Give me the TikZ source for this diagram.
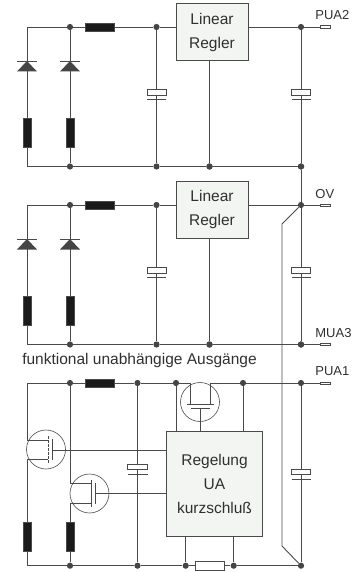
\documentclass[tikz,border=0pt]{standalone}
\usepackage{fontspec}
\setmainfont{Liberation Sans}
\definecolor{wirec}{HTML}{4A4A4A}
\definecolor{dotc}{HTML}{454545}
\definecolor{boxf}{HTML}{F3F5F3}
\definecolor{resc}{HTML}{1A1A1A}
\definecolor{textc}{HTML}{303030}
\tikzset{
 wire/.style={draw=wirec,line width=0.9pt},
 dotn/.style={circle,fill=dotc,inner sep=0pt,minimum size=6.2pt},
 resb/.style={draw=wirec,fill=resc,line width=0.5pt},
 resw/.style={draw=wirec,fill=white,line width=0.8pt},
 ctrl/.style={draw=wirec,fill=boxf,line width=0.9pt,inner sep=0pt,align=center,font=\fontsize{15.5}{24}\selectfont,text=textc},
 lab/.style={font=\fontsize{13}{15}\selectfont,text=textc,inner sep=0pt,anchor=base west},
 term/.style={draw=wirec,fill=white,line width=0.6pt,inner sep=0pt,minimum width=10pt,minimum height=2.4pt},
 fetc/.style={circle,draw=wirec,line width=0.6pt,minimum size=39pt,inner sep=0pt},
}
\newcommand{\rectv}[2]{\path[resb] (#1-4,#2) rectangle (#1+4,#2+29);}
\newcommand{\capv}[2]{%
 \path[resw,fill=white] (#1-9.5,#2) rectangle (#1+9.5,#2+5.5);
 \draw[wire] (#1-9.5,#2+10) -- (#1+9.5,#2+10);}
\newcommand{\diodev}[2]{%
 \fill[dotc] (#1,#2) -- (#1-10,#2+10.5) -- (#1+10,#2+10.5) -- cycle;
 \draw[wire] (#1-10,#2) -- (#1+10,#2);}
\newcommand{\block}[2]{% #1 y offset, #2 unused
 \begin{scope}[yshift=-#1pt]
 \coordinate (tl) at (27,27); \coordinate (bl) at (27,166.5);
 \node[dotn] (n1) at (70,27) {};
 \node[dotn] (n2) at (156.5,27) {};
 \node[dotn] (n3) at (70,166.5) {};
 \node[dotn] (n4) at (156.5,166.5) {};
 \node[dotn] (n5) at (209.5,166.5) {};
 \node[dotn] (n6) at (301,166.5) {};
 \draw[wire] (n2) -- (176,27);
 \draw[wire] (tl) -- (n1) -- (n2);
 \draw[wire] (tl) -- (bl) -- (n3) -- (n4) -- (n5) -- (n6);
 \draw[wire] (n1) -- (n3);
 \draw[wire] (n2) -- (n4);
 \path[resb] (85,23.5) rectangle (114,31.5);
 \diodev{27}{61}\diodev{70}{61}
 \rectv{27}{118}\rectv{70}{118}
 \capv{156.5}{89.5}
 \end{scope}}
\begin{document}
\begin{tikzpicture}[x=1pt,y=-1pt]
\useasboundingbox (0,0) rectangle (352,572);
\block{0}{}
\block{178}{}
% regulators
\node[ctrl,minimum width=72pt,minimum height=57.5pt] (lr1) at (212,32.2) {Linear\\Regler};
\node[ctrl,minimum width=72pt,minimum height=57.5pt] (lr2) at (212,209.8) {Linear\\Regler};
% output rail
\node[dotn] (o1) at (301,27) {};
\node[dotn] (o2) at (301,166.5) {};
\node[dotn] (o3) at (301,205) {};
\node[dotn] (o4) at (301,344.5) {};
\node[dotn] (g1) at (209.5,166.5) {};
\node[dotn] (g2) at (209.5,344.5) {};
\node[term] (t1) at (325,27) {};
\node[term] (t2) at (325,205) {};
\node[term] (t3) at (325,344.5) {};
\node[term] (t4) at (325,383) {};
\draw[wire] (lr1.east|-o1) -- (o1) -- (t1);
\draw[wire] (lr2.east|-o3) -- (o3) -- (t2);
\draw[wire] (o4) -- (t3);
\draw[wire] (o1) -- (o2) -- (o3) -- (o4);
\draw[wire] (lr1.south-|g1) -- (g1);
\draw[wire] (lr2.south-|g2) -- (g2);
\path[resw] (291.5,89.5) rectangle (310.5,95);
\draw[wire] (291.5,99.5) -- (310.5,99.5);
\path[resw] (291.5,267.5) rectangle (310.5,273);
\draw[wire] (291.5,277.5) -- (310.5,277.5);
\node[lab] at (315.2,20) {PUA2};
\node[lab] at (315.2,198) {OV};
\node[lab] at (315.2,337) {MUA3};
\node[lab] at (315.2,375) {PUA1};
\node[font=\fontsize{15.5}{18}\selectfont,text=textc,inner sep=0pt,anchor=base] (cap) at (139.5,364.5) {funktional unabhängige Ausgänge};
% third block
\coordinate (tl3) at (27,383);
\coordinate (bl3) at (27,565.7);
\node[dotn] (a1) at (70,383) {};
\node[dotn] (a2) at (137.5,383) {};
\node[dotn] (a3) at (176,383) {};
\node[dotn] (a4) at (243,383) {};
\node[dotn] (a5) at (301,383) {};
\node[dotn] (b1) at (70,565.7) {};
\node[dotn] (b2) at (137.5,565.7) {};
\node[dotn] (b3) at (185.7,565.7) {};
\node[dotn] (b4) at (233.7,565.7) {};
\node[dotn] (b5) at (301,565.7) {};
\draw[wire] (bl3) -- (b1) -- (b2) -- (b3);
\draw[wire] (b3) -- (b4) -- (b5);
\draw[wire] (tl3) -- (a1) -- (a2) -- (a3) -- (190,383);
\draw[wire] (210,383) -- (a4) -- (a5) -- (t4);
\draw[wire] (a5) -- (b5);
\draw[wire] (o3) -- (282,224) -- (282,546) -- (b5);
\path[resw] (291.5,469) rectangle (310.5,474.5);
\draw[wire] (291.5,479) -- (310.5,479);
\path[resb] (85,379) rectangle (114,387);
\draw[wire] (a2) -- (b2);
\path[resw] (127.5,464) rectangle (147.5,469.5);
\draw[wire] (127.5,474) -- (147.5,474);
\node[ctrl,minimum width=96pt,minimum height=105pt] (rg) at (214.5,483.5) {Regelung\\UA\\kurzschluß};
\draw[wire] (a3) -- (a3|-rg.north);
\draw[wire] (a4) -- (a4|-rg.north);
\draw[wire] (b3) -- (b3|-rg.south);
\draw[wire] (b4) -- (b4|-rg.south);
\path[resw] (195,561.2) rectangle (224,570.2);
% fet 1
\node[fetc] (f1) at (46,449.5) {};
\draw[wire] (tl3) -- (27,440) -- (48,440);
\draw[wire] (48,459.5) -- (27,459.5) -- (bl3);
\draw[wire,dash pattern=on 3pt off 1pt] (48,436) -- (48,463);
\draw[wire] (52,439) -- (52,460);
\draw[wire] (52,450) -- (rg.west|-52,450);
% fet 2
\node[fetc] (f2) at (89.5,493.5) {};
\draw[wire] (a1) -- (70,483.5) -- (91.5,483.5);
\draw[wire] (91.5,503) -- (70,503) -- (b1);
\draw[wire] (91.5,480) -- (91.5,507);
\draw[wire] (95.5,483) -- (95.5,504);
\draw[wire] (95.5,493.5) -- (rg.west|-95.5,493.5);
% fet 3
\node[fetc] (f3) at (200,402) {};
\draw[wire] (190,383) -- (190,404);
\draw[wire] (210,383) -- (210,404);
\draw[wire] (187,404) -- (213.5,404);
\draw[wire] (190.5,408) -- (210,408);
\draw[wire] (200,408) -- (200,431);
\rectv{27}{522}\rectv{70}{522}
\end{tikzpicture}
\end{document}
